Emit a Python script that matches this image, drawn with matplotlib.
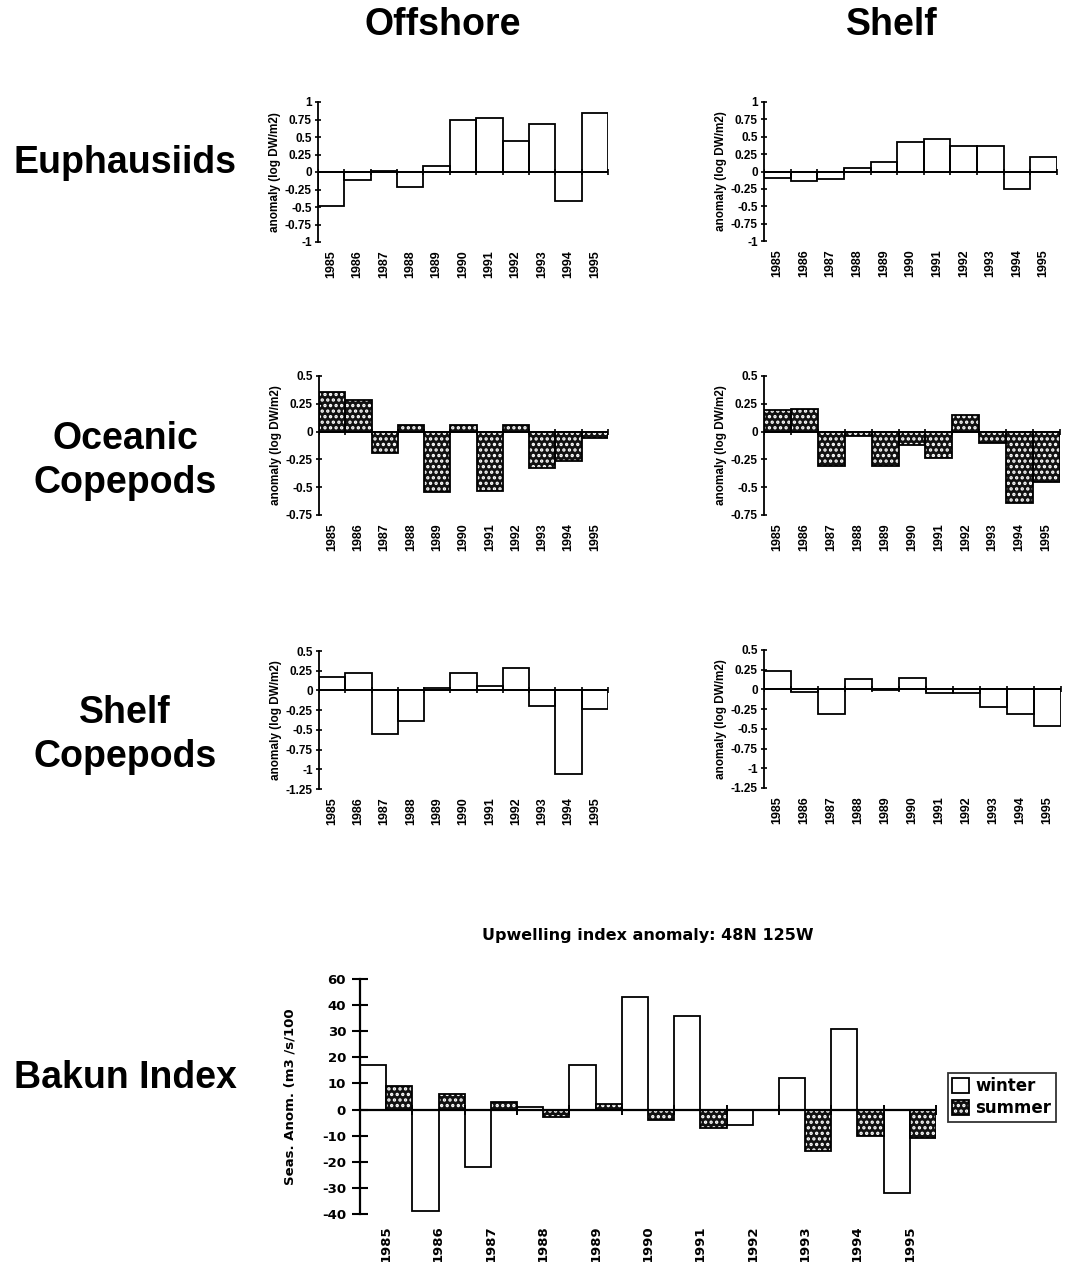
import numpy as np
import matplotlib
matplotlib.use("Agg")
import matplotlib.pyplot as plt

plt.rcParams['axes.unicode_minus'] = False
plt.rcParams['hatch.linewidth'] = 1.6
plt.rcParams['font.family'] = ['Liberation Sans', 'DejaVu Sans']

# ---- data ----
years = [1985, 1986, 1987, 1988, 1989, 1990, 1991, 1992, 1993, 1994, 1995]

euph_off = [-0.48, -0.12, 0.02, -0.22, 0.08, 0.75, 0.77, 0.44, 0.69, -0.42, 0.85]
euph_shelf = [-0.10, -0.14, -0.11, 0.05, 0.14, 0.42, 0.47, 0.37, 0.36, -0.25, 0.21]

ocean_off = [0.36, 0.28, -0.19, 0.06, -0.54, 0.06, -0.53, 0.06, -0.33, -0.26, -0.06]
ocean_shelf = [0.19, 0.20, -0.31, -0.04, -0.31, -0.12, -0.24, 0.15, -0.10, -0.64, -0.45]

shelfcop_off = [0.17, 0.22, -0.55, -0.39, 0.03, 0.22, 0.05, 0.28, -0.20, -1.06, -0.24]
shelfcop_shelf = [0.23, -0.03, -0.31, 0.13, -0.01, 0.14, -0.05, -0.04, -0.22, -0.31, -0.47]

bakun_winter = [17, -39, -22, 1, 17, 43, 36, -6, 12, 31, -32]
bakun_summer = [9, 6, 3, -3, 2, -4, -7, 0, -16, -10, -11]

bakun_yticks = [-40, -30, -20, -10, 0, 10, 20, 30, 40, 50]
bakun_yticklabels = ['-40', '-30', '-20', '-10', '0', '10', '20', '30', '40', '60']

W, H = 1068, 1262
fig = plt.figure(figsize=(W / 100, H / 100), dpi=100)


def rect(x0, y0, x1, y1):
    return [x0 / W, 1 - y1 / H, (x1 - x0) / W, (y1 - y0) / H]


def fmt(v):
    s = ('%.2f' % v).rstrip('0').rstrip('.')
    return '0' if s in ('-0', '0') else s


DARK = '#111111'


def small_panel(box, vals, lo, hi, hatched):
    ax = fig.add_axes(rect(*box))
    x = np.arange(len(years))
    if hatched:
        ax.bar(x, vals, width=1, color=DARK, edgecolor='white', hatch='...', lw=0)
    ax.bar(x, vals, width=1, fill=False, edgecolor='black', lw=1.3)
    ax.axhline(0, color='black', lw=1.3)
    edges = np.arange(len(years) + 1) - 0.5
    ax.plot(edges, np.zeros_like(edges), ls='none', marker='|', ms=5, mew=1.2, color='black')
    ax.set_xlim(-0.5, len(years) - 0.5)
    ax.set_ylim(lo, hi)
    ticks = np.arange(lo, hi + 0.01, 0.25)
    ax.set_yticks(ticks)
    ax.set_yticklabels([fmt(t) for t in ticks], fontsize=8.5, fontweight='bold')
    ax.set_xticks(x)
    ax.set_xticklabels([str(y) for y in years], rotation=90, fontsize=9, fontweight='bold')
    for s in ('top', 'right', 'bottom'):
        ax.spines[s].set_visible(False)
    ax.spines['left'].set_linewidth(1.3)
    ax.tick_params(axis='x', length=0, pad=6)
    ax.tick_params(axis='y', direction='inout', length=5, width=1.2, pad=2)
    ax.set_ylabel('anomaly (log DW/m2)', fontsize=8.5, fontweight='bold', labelpad=3)
    return ax


small_panel((318, 102, 608, 242), euph_off, -1, 1, False)
small_panel((764, 102, 1057, 241), euph_shelf, -1, 1, False)
small_panel((319, 376, 608, 515), ocean_off, -0.75, 0.5, True)
small_panel((764, 376, 1060, 515), ocean_shelf, -0.75, 0.5, True)
small_panel((319, 651, 608, 789), shelfcop_off, -1.25, 0.5, False)
small_panel((764, 650, 1061, 788), shelfcop_shelf, -1.25, 0.5, False)

# ---- Bakun index panel ----
ax = fig.add_axes(rect(360, 979, 936, 1214))
x = np.arange(len(years))
bw = ax.bar(x - 0.25, bakun_winter, width=0.5, fill=False, edgecolor='black', lw=1.3)
bs_fill = ax.bar(x + 0.25, bakun_summer, width=0.5, color=DARK, edgecolor='white', hatch='...', lw=0)
bs_edge = ax.bar(x + 0.25, bakun_summer, width=0.5, fill=False, edgecolor='black', lw=1.3)
ax.axhline(0, color='black', lw=1.6)
edges = np.arange(len(years) + 1) - 0.5
ax.plot(edges, np.zeros_like(edges), ls='none', marker='|', ms=7, mew=1.4, color='black')
ax.set_xlim(-0.5, len(years) - 0.5)
ax.set_ylim(-40, 50)
ax.set_yticks(bakun_yticks)
ax.set_yticklabels(bakun_yticklabels, fontsize=9.5, fontweight='bold', family='DejaVu Sans')
ax.set_xticks(x)
ax.set_xticklabels([str(y) for y in years], rotation=90, fontsize=9.5, fontweight='bold',
                   family='DejaVu Sans')
for s in ('top', 'right', 'bottom'):
    ax.spines[s].set_visible(False)
ax.spines['left'].set_linewidth(1.6)
ax.tick_params(axis='x', length=0, pad=8)
ax.tick_params(axis='y', direction='inout', length=12, width=1.5, pad=4)
ax.set_ylabel('Seas. Anom. (m3 /s/100', fontsize=9.5, fontweight='bold', family='DejaVu Sans',
              labelpad=18)
ax.set_title('Upwelling index anomaly: 48N 125W', fontsize=11.5, fontweight='bold',
             family='DejaVu Sans', pad=28)
leg = fig.legend([bw, (bs_fill, bs_edge)], ['winter', 'summer'],
                 loc='upper left', bbox_to_anchor=(948 / W, 1 - 1073 / H),
                 prop={'family': 'DejaVu Sans', 'weight': 'bold', 'size': 12},
                 frameon=True, fancybox=False, handlelength=1.0, handleheight=1.0,
                 handletextpad=0.4, borderpad=0.25, labelspacing=0.25, borderaxespad=0)
leg.get_frame().set_edgecolor('black')
leg.get_frame().set_linewidth(1.3)

# ---- row and column headings ----
head = dict(fontsize=27, fontweight='bold', ha='center', va='center')
fig.text(443 / W, 1 - 25 / H, 'Offshore', **head)
fig.text(892 / W, 1 - 25 / H, 'Shelf', **head)
fig.text(125 / W, 1 - 163 / H, 'Euphausiids', **head)
fig.text(125 / W, 1 - 461 / H, 'Oceanic\nCopepods', linespacing=1.3, **head)
fig.text(125 / W, 1 - 735 / H, 'Shelf\nCopepods', linespacing=1.3, **head)
fig.text(125 / W, 1 - 1078 / H, 'Bakun Index', **head)

fig.savefig('out.png', dpi=100, facecolor='white')
